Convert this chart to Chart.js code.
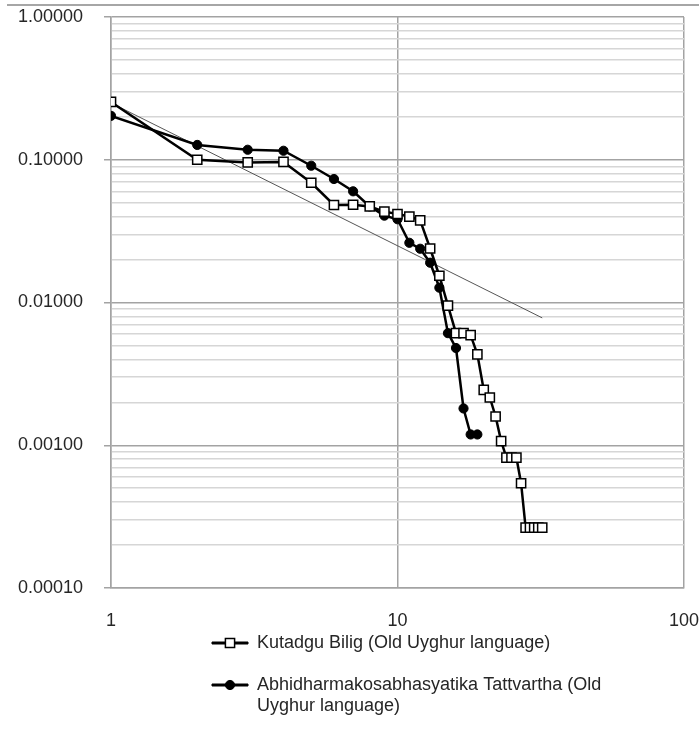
<!DOCTYPE html>
<html>
<head>
<meta charset="utf-8">
<script src="https://cdn.jsdelivr.net/npm/chart.js@4/dist/chart.umd.min.js"></script>
<style>
  html, body { margin: 0; padding: 0; background: #fff; }
  #wrap { position: relative; width: 699px; height: 729px; }
</style>
</head>
<body>
<div id="wrap"><canvas id="c"></canvas></div>
<script>
// ---- data ----
const kutadguRanks = [1,2,3,4,5,6,7,8,9,10,11,12,13,14,15,16,17,18,19,20,21,22,23,24,25,26,27,28,29,30,31,32];
const kutadguFreq  = [0.254,0.100,0.0958,0.0965,0.069,0.0482,0.0484,0.0471,0.0433,0.0417,0.0400,0.0376,
                      0.0239,0.0154,0.0095,0.0061,0.0061,0.0059,0.00433,0.00244,0.00216,0.00159,0.00107,
                      0.00082,0.00082,0.00082,0.000542,0.000265,0.000265,0.000265,0.000265,0.000265];
const abhiRanks = [1,2,3,4,5,6,7,8,9,10,11,12,13,14,15,16,17,18,19];
const abhiFreq  = [0.203,0.127,0.1175,0.1156,0.0908,0.0733,0.0601,0.0471,0.0406,0.0383,0.0262,0.0238,
                   0.0190,0.0127,0.0061,0.0048,0.00181,0.00119,0.00119];
const trendRanks = [1, 32];
const trendFreq  = [0.25, 0.0078];

const seriesNames = ['Kutadgu Bilig (Old Uyghur language)',
                     'Abhidharmakosabhasyatika Tattvartha (Old Uyghur language)',
                     'Power trend'];
const legendTexts = [['Kutadgu Bilig (Old Uyghur language)'],
                     ['Abhidharmakosabhasyatika Tattvartha (Old', 'Uyghur language)']];

const xTickValues = [1, 10, 100];
const xTickLabels = ['1', '10', '100'];
const yDecades    = [0.0001, 0.001, 0.01, 0.1, 1];
const yTickLabels = ['0.00010', '0.00100', '0.01000', '0.10000', '1.00000'];

// ---- styling / layout ----
const FONT = { family: "'Liberation Sans', Arial, sans-serif", size: 18 };
const TEXT_COLOR = '#262626';
const MAJOR_GRID = '#a3a3a3';
const MINOR_GRID = '#d6d6d6';
const LEGEND_LEFT = 212;
const LEGEND_TOP = 610;

const isDecade = v => yDecades.some(d => Math.abs(d - v) < d * 1e-6);
const yGridValues = [];
yDecades.forEach((d, k) => {
  if (k === yDecades.length - 1) { yGridValues.push(d); return; }
  for (let m = 1; m <= 9; m++) yGridValues.push(+(d * m).toPrecision(6));
});

const toPts = (xs, ys) => xs.map((x, i) => ({ x, y: ys[i] }));

const tweaks = {
  id: 'tweaks',
  beforeDraw(chart) {
    const ctx = chart.ctx;
    ctx.save();
    ctx.fillStyle = '#fff';
    ctx.fillRect(0, 0, chart.width, chart.height);
    ctx.strokeStyle = '#a6a6a6';
    ctx.lineWidth = 2;
    ctx.beginPath(); ctx.moveTo(7, 5); ctx.lineTo(chart.width, 5); ctx.stroke();
    ctx.restore();
  },
  afterLayout(chart) {
    const lg = chart.legend;
    if (!lg) return;
    const pad = lg.options.labels.padding;
    lg.left = LEGEND_LEFT - pad;
    lg.width = lg.right - lg.left;
    lg.top = LEGEND_TOP;
    lg.bottom = chart.height;
    lg.height = lg.bottom - lg.top;
  },
  afterDraw(chart) {
    const lg = chart.legend;
    if (!lg || !lg.legendHitBoxes) return;
    const ctx = chart.ctx;
    const bw = lg.options.labels.boxWidth;
    const fs = FONT.size;
    lg.legendItems.forEach((item, i) => {
      const hb = lg.legendHitBoxes[i];
      const ds = chart.data.datasets[item.datasetIndex];
      ctx.save();
      ctx.fillStyle = ds.pointBackgroundColor;
      ctx.strokeStyle = ds.pointBorderColor;
      ctx.lineWidth = ds.pointBorderWidth;
      Chart.helpers.drawPoint(ctx, {
        pointStyle: ds.pointStyle, radius: ds.pointRadius, rotation: 0, borderWidth: ds.pointBorderWidth
      }, hb.left + bw / 2, hb.top + fs / 2);
      ctx.restore();
    });
  }
};

new Chart(document.getElementById('c'), {
  type: 'scatter',
  data: {
    datasets: [
      {
        label: seriesNames[0],
        data: toPts(kutadguRanks, kutadguFreq),
        showLine: true,
        borderColor: '#000', borderWidth: 2.5,
        pointStyle: 'rect', pointRadius: 6.5, pointHoverRadius: 6.5,
        pointBackgroundColor: '#fff', pointBorderColor: '#000', pointBorderWidth: 1.5,
        backgroundColor: '#fff'
      },
      {
        label: seriesNames[1],
        data: toPts(abhiRanks, abhiFreq),
        showLine: true,
        borderColor: '#000', borderWidth: 2.5,
        pointStyle: 'circle', pointRadius: 4.6, pointHoverRadius: 4.6,
        pointBackgroundColor: '#000', pointBorderColor: '#000', pointBorderWidth: 1,
        backgroundColor: '#000'
      },
      {
        label: seriesNames[2],
        data: toPts(trendRanks, trendFreq),
        showLine: true,
        borderColor: '#555', borderWidth: 1,
        pointRadius: 0, pointHoverRadius: 0
      }
    ]
  },
  options: {
    responsive: true,
    maintainAspectRatio: false,
    animation: false,
    events: [],
    layout: { padding: { top: 17, right: 15, bottom: 1, left: 0 } },
    plugins: {
      tooltip: { enabled: false },
      title: { display: false },
      legend: {
        display: true,
        position: 'bottom',
        align: 'start',
        labels: {
          font: { ...FONT, lineHeight: 21 / 18 },
          color: TEXT_COLOR,
          boxWidth: 36,
          boxHeight: 2,
          padding: 24,
          filter: item => item.datasetIndex !== 2,
          generateLabels(chart) {
            const items = Chart.defaults.plugins.legend.labels.generateLabels(chart);
            return items.map(it => {
              it.fillStyle = '#000';
              it.strokeStyle = '#000';
              it.lineWidth = 1;
              it.lineDash = [];
              it.fontColor = TEXT_COLOR;
              if (legendTexts[it.datasetIndex]) {
                const t = legendTexts[it.datasetIndex];
                it.text = t.length === 1 ? t[0] : t;
              }
              return it;
            });
          }
        }
      }
    },
    scales: {
      x: {
        type: 'logarithmic',
        min: 1, max: 100,
        afterBuildTicks: s => { s.ticks = xTickValues.map(v => ({ value: v, major: true })); },
        afterFit: s => { s.height = 46; s.paddingLeft = 0; s.paddingRight = 0; },
        ticks: {
          autoSkip: false, maxRotation: 0, minRotation: 0,
          font: FONT, color: TEXT_COLOR, padding: 22,
          callback: (v, i) => xTickLabels[i]
        },
        grid: { color: MAJOR_GRID, lineWidth: 1.5, drawTicks: false },
        border: { color: MAJOR_GRID, width: 1.5 }
      },
      y: {
        type: 'logarithmic',
        min: 0.0001, max: 1,
        afterBuildTicks: s => { s.ticks = yGridValues.map(v => ({ value: v, major: isDecade(v) })); },
        afterFit: s => { s.width = 111; s.paddingTop = 0; s.paddingBottom = 0; },
        ticks: {
          autoSkip: false,
          font: FONT, color: TEXT_COLOR, padding: 21,
          callback: v => {
            const k = yDecades.findIndex(d => Math.abs(d - v) < d * 1e-6);
            return k >= 0 ? yTickLabels[k] : '';
          }
        },
        grid: {
          color: c => (c.tick && isDecade(c.tick.value)) ? MAJOR_GRID : MINOR_GRID,
          tickColor: c => (c.tick && isDecade(c.tick.value)) ? MAJOR_GRID : 'rgba(0,0,0,0)',
          lineWidth: 1.5,
          tickLength: 7,
          drawTicks: true
        },
        border: { color: MAJOR_GRID, width: 1.5 }
      }
    }
  },
  plugins: [tweaks]
});
</script>
</body>
</html>
